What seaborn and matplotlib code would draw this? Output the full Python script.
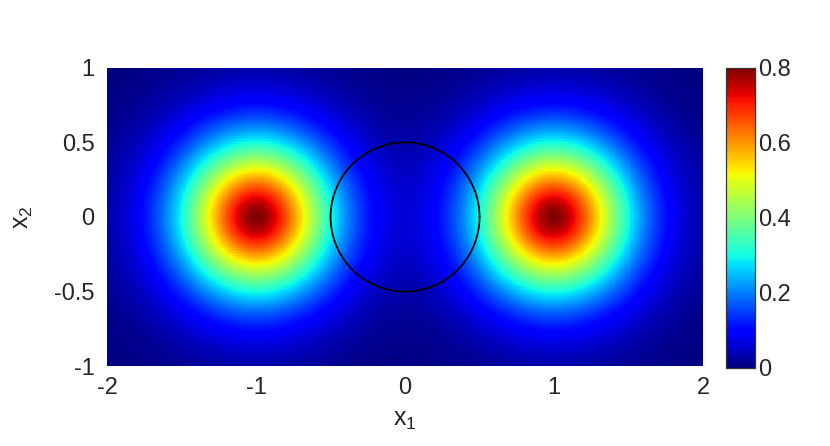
import numpy as np
import matplotlib
matplotlib.use("Agg")
import matplotlib.pyplot as plt
import seaborn as sns

# field parameters
centers_x1 = [-1.0, 1.0]
centers_x2 = [0.0, 0.0]
peaks = [0.8, 0.8]
bump_radius = 0.51
bump_power = 1.75
circle_radius = 0.5

x_ticks = [-2, -1, 0, 1, 2]
y_ticks = [-1, -0.5, 0, 0.5, 1]
y_tick_labels = ["-1", "-0.5", "0", "0.5", "1"]
cbar_ticks = [0, 0.2, 0.4, 0.6, 0.8]
cbar_labels = ["0", "0.2", "0.4", "0.6", "0.8"]

nx, ny = 400, 200
x1 = np.linspace(-2, 2, nx)
x2 = np.linspace(-1, 1, ny)
X1, X2 = np.meshgrid(x1, x2)
Z = np.zeros_like(X1)
for cx, cy, p in zip(centers_x1, centers_x2, peaks):
    r = np.sqrt((X1 - cx) ** 2 + (X2 - cy) ** 2)
    Z += p * np.exp(-(r / bump_radius) ** bump_power)

sns.set_style("white")
plt.rcParams['font.family'] = ['Liberation Sans', 'DejaVu Sans']
plt.rcParams['mathtext.fontset'] = 'custom'
plt.rcParams['mathtext.rm'] = 'Liberation Sans'
plt.rcParams['mathtext.it'] = 'Liberation Sans'

fig = plt.figure(figsize=(8.3, 4.46), dpi=100)
ax = fig.add_axes([0.129, 0.179, 0.718, 0.669])
cax = fig.add_axes([0.875, 0.175, 0.035, 0.673])

sns.heatmap(Z[::-1], ax=ax, cmap="jet", vmin=0, vmax=0.8, cbar_ax=cax,
            xticklabels=False, yticklabels=False, rasterized=True)

# data -> heatmap cell coordinates
def to_cx(v):
    return (np.asarray(v) + 2) / 4 * nx

def to_cy(v):
    return (1 - np.asarray(v)) / 2 * ny

t = np.linspace(0, 2 * np.pi, 300)
ax.plot(to_cx(circle_radius * np.cos(t)), to_cy(circle_radius * np.sin(t)),
        color="black", lw=1.3)

ax.set_xticks(to_cx(x_ticks))
ax.set_xticklabels([str(v) for v in x_ticks], fontsize=17)
ax.set_yticks(to_cy(y_ticks))
ax.set_yticklabels(y_tick_labels, fontsize=17, rotation=0)
ax.tick_params(axis="x", length=0, pad=8)
ax.tick_params(axis="y", length=0, pad=9)
ax.set_xlabel("x$_1$", fontsize=18, labelpad=6)
ax.set_ylabel("x$_2$", fontsize=18, labelpad=14)

cax.set_yticks(cbar_ticks)
cax.set_yticklabels(cbar_labels, fontsize=17)
cax.tick_params(direction="in", length=4, width=0.8, pad=2)
for s in cax.spines.values():
    s.set_visible(True)
    s.set_color("#333333")
    s.set_linewidth(0.8)

fig.savefig("out.png", dpi=100)
